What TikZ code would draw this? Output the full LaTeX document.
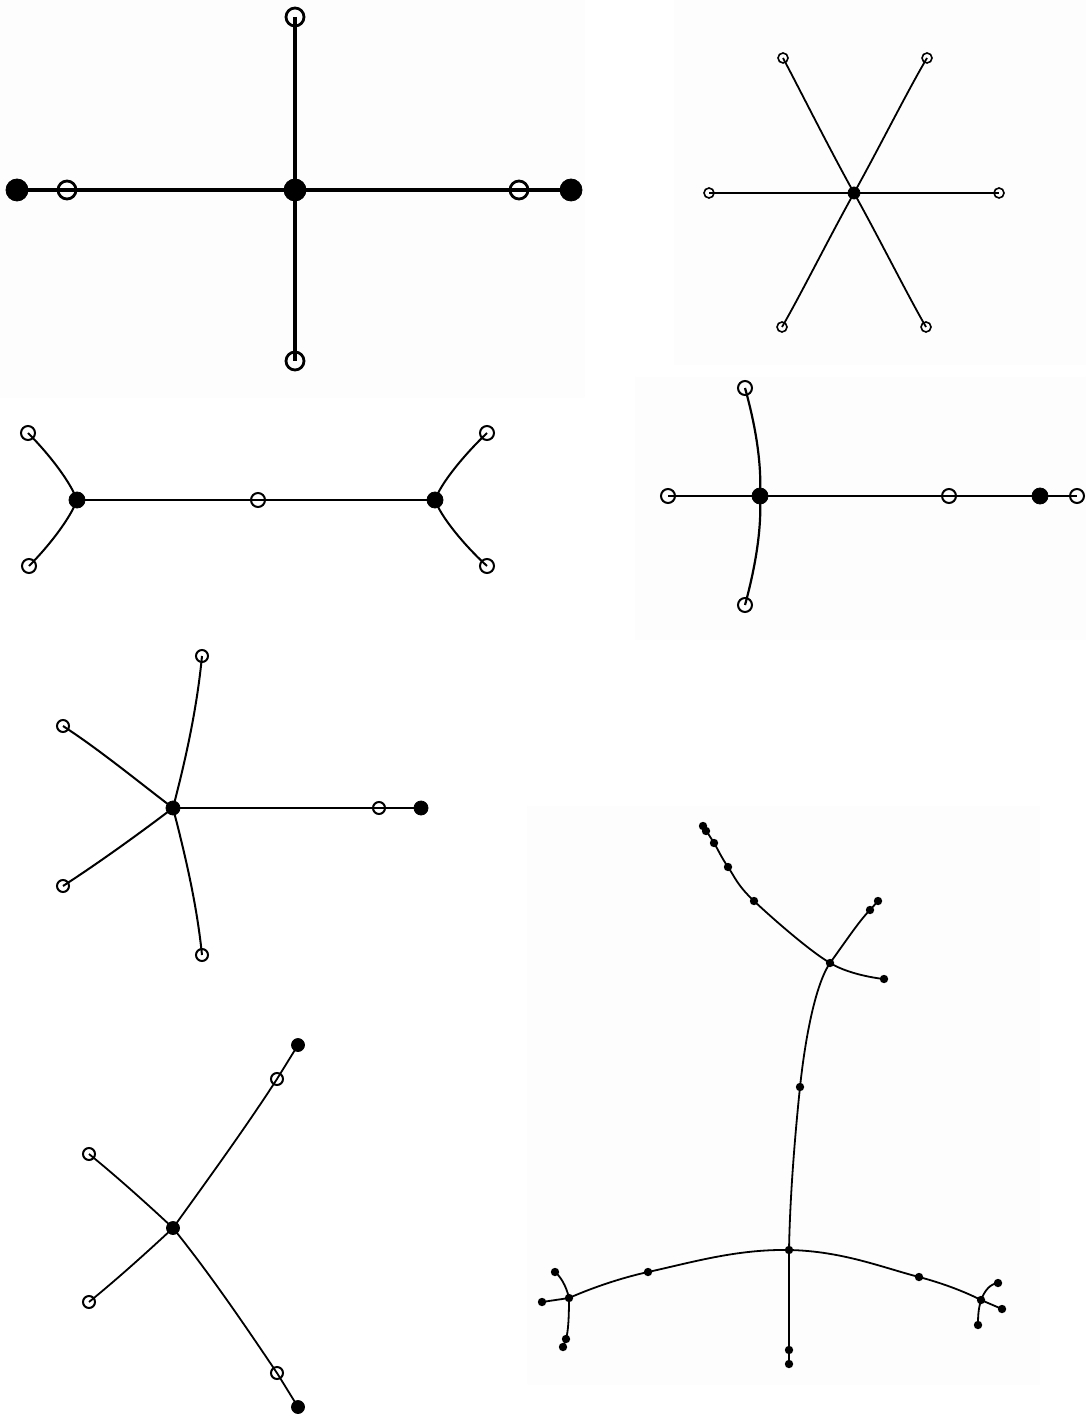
\documentclass[tikz,border=0pt]{standalone}
\begin{document}
\begin{tikzpicture}[x=0.5pt,y=-0.5pt,
  opn/.style={circle,draw=black,fill=none,inner sep=0pt,minimum size=#1},
  fil/.style={circle,draw=black,fill=black,inner sep=0pt,minimum size=#1},
  dotn/.style={circle,fill=black,inner sep=0pt,minimum size=4.2pt},
  edge/.style={draw=black,line width=#1},
  panelbg/.style={fill=black!0.8,draw=none}]
\useasboundingbox (0,0) rectangle (1086,1416);
\fill[white] (0,0) rectangle (1086,1416);
% faint panel backgrounds
\path[panelbg] (0,0) rectangle (585,398);
\path[panelbg] (674,0) rectangle (1086,365);
\path[panelbg] (635,377) rectangle (1086,640);
\path[panelbg] (527,806) rectangle (1040,1385);

% ---------------- Panel 1 ----------------
\begin{scope}
\path (295,190) coordinate (a0) (295,17) coordinate (at) (295,361) coordinate (ab)
      (17,190) coordinate (alf) (67,190) coordinate (alo) (519,190) coordinate (aro) (571,190) coordinate (arf);
\draw[edge=1.6pt] (at) -- (ab);
\draw[edge=1.6pt] (alf) -- (arf);
\node[opn=9pt,line width=1.4pt] (A1) at (at) {};
\node[opn=9pt,line width=1.4pt] (A2) at (ab) {};
\node[opn=9pt,line width=1.4pt] (A3) at (alo) {};
\node[opn=9pt,line width=1.4pt] (A4) at (aro) {};
\node[fil=11pt] (A0) at (a0) {};
\node[fil=11pt] (A5) at (alf) {};
\node[fil=11pt] (A6) at (arf) {};
\end{scope}

% ---------------- Panel 2 ----------------
\node[fil=6pt] (B0) at (854,193) {};
\node[opn=5pt,line width=0.8pt] (B1) at (783,58) {};
\node[opn=5pt,line width=0.8pt] (B2) at (927,58) {};
\node[opn=5pt,line width=0.8pt] (B3) at (709,193) {};
\node[opn=5pt,line width=0.8pt] (B4) at (999,193) {};
\node[opn=5pt,line width=0.8pt] (B5) at (782,327) {};
\node[opn=5pt,line width=0.8pt] (B6) at (926,327) {};
\draw[edge=0.9pt] (B0.center) .. controls (830,150) and (800,90) .. (B1.center);
\draw[edge=0.9pt] (B0.center) .. controls (878,150) and (908,90) .. (B2.center);
\draw[edge=0.9pt] (B0.center) -- (B3.center);
\draw[edge=0.9pt] (B0.center) -- (B4.center);
\draw[edge=0.9pt] (B0.center) .. controls (830,236) and (800,296) .. (B5.center);
\draw[edge=0.9pt] (B0.center) .. controls (878,236) and (908,296) .. (B6.center);

% ---------------- Panel 3 ----------------
\node[fil=8pt] (C0) at (77,500) {};
\node[fil=8pt] (C1) at (435,500) {};
\node[opn=7pt,line width=1pt] (C2) at (258,500) {};
\node[opn=7pt,line width=1pt] (C3) at (28,433) {};
\node[opn=7pt,line width=1pt] (C4) at (29,566) {};
\node[opn=7pt,line width=1pt] (C5) at (487,433) {};
\node[opn=7pt,line width=1pt] (C6) at (487,566) {};
\draw[edge=1.1pt] (C0.center) -- (C2.center) -- (C1.center);
\draw[edge=1pt] (C0.center) .. controls (71,483) and (50,455) .. (C3.center);
\draw[edge=1pt] (C0.center) .. controls (71,517) and (50,545) .. (C4.center);
\draw[edge=1pt] (C1.center) .. controls (441,483) and (464,455) .. (C5.center);
\draw[edge=1pt] (C1.center) .. controls (441,517) and (464,545) .. (C6.center);

% ---------------- Panel 4 ----------------
\node[fil=8pt] (D0) at (760,496) {};
\node[opn=7pt,line width=1pt] (D1) at (745,388) {};
\node[opn=7pt,line width=1pt] (D2) at (745,605) {};
\node[opn=7pt,line width=1pt] (D3) at (668,496) {};
\node[opn=7pt,line width=1pt] (D4) at (949,496) {};
\node[fil=8pt] (D5) at (1040,496) {};
\node[opn=7pt,line width=1pt] (D6) at (1077,496) {};
\draw[edge=1.1pt] (D0.center) .. controls (762,460) and (754,420) .. (D1.center);
\draw[edge=1.1pt] (D0.center) .. controls (762,532) and (754,572) .. (D2.center);
\draw[edge=1.1pt] (D3.center) -- (D0.center) -- (D4.center) -- (D5.center) -- (D6.center);

% ---------------- Panel 5 ----------------
\node[fil=7pt] (E0) at (173,808) {};
\node[opn=6pt,line width=1pt] (E1) at (202,656) {};
\node[opn=6pt,line width=1pt] (E2) at (63,726) {};
\node[opn=6pt,line width=1pt] (E3) at (63,886) {};
\node[opn=6pt,line width=1pt] (E4) at (202,955) {};
\node[opn=6pt,line width=1pt] (E5) at (379,808) {};
\node[fil=7pt] (E6) at (421,808) {};
\draw[edge=1pt] (E0.center) .. controls (186,758) and (197,708) .. (E1.center);
\draw[edge=1pt] (E0.center) .. controls (140,783) and (100,750) .. (E2.center);
\draw[edge=1pt] (E0.center) .. controls (140,833) and (100,862) .. (E3.center);
\draw[edge=1pt] (E0.center) .. controls (186,858) and (197,906) .. (E4.center);
\draw[edge=1pt] (E0.center) -- (E5.center) -- (E6.center);

% ---------------- Panel 6 ----------------
\node[fil=6.5pt] (F0) at (173,1228) {};
\node[fil=6.5pt] (F1) at (298,1045) {};
\node[opn=6pt,line width=1pt] (F2) at (277,1079) {};
\node[opn=6pt,line width=1pt] (F3) at (89,1154) {};
\node[opn=6pt,line width=1pt] (F4) at (89,1302) {};
\node[opn=6pt,line width=1pt] (F5) at (277,1373) {};
\node[fil=6.5pt] (F6) at (298,1407) {};
\draw[edge=0.9pt] (F0.center) .. controls (206,1182) and (244,1130) .. (F2.center) -- (F1.center);
\draw[edge=0.9pt] (F0.center) .. controls (144,1201) and (116,1176) .. (F3.center);
\draw[edge=0.9pt] (F0.center) .. controls (144,1255) and (116,1280) .. (F4.center);
\draw[edge=0.9pt] (F0.center) .. controls (210,1274) and (244,1324) .. (F5.center) -- (F6.center);

% ---------------- Panel 7 ----------------
\node[dotn] (G1) at (703,826) {};
\node[dotn] (G2) at (706,831) {};
\node[dotn] (G3) at (714,843) {};
\node[dotn] (G4) at (728,867) {};
\node[dotn] (G5) at (754,901) {};
\node[dotn] (GH) at (830,963) {};
\node[dotn] (G6) at (884,979) {};
\node[dotn] (G7) at (870,910) {};
\node[dotn] (G8) at (878,901) {};
\node[dotn] (G9) at (800,1087) {};
\node[dotn] (GB) at (789,1250) {};
\node[dotn] (G10) at (789,1350) {};
\node[dotn] (G11) at (789,1364) {};
\node[dotn] (G12) at (648,1272) {};
\node[dotn] (GL) at (569,1298) {};
\node[dotn] (G13) at (555,1272) {};
\node[dotn] (G14) at (542,1302) {};
\node[dotn] (G15) at (566,1339) {};
\node[dotn] (G16) at (563,1347) {};
\node[dotn] (G17) at (919,1277) {};
\node[dotn] (GR) at (981,1300) {};
\node[dotn] (G18) at (998,1283) {};
\node[dotn] (G19) at (1002,1309) {};
\node[dotn] (G20) at (978,1325) {};
\draw[edge=0.9pt] plot[smooth,tension=0.6] coordinates {(G1.center) (G3.center) (G4.center) (G5.center) (GH.center) (G6.center)};
\draw[edge=0.9pt] (GH.center) .. controls (848,938) and (860,920) .. (G7.center) -- (G8.center);
\draw[edge=0.9pt] (GH.center) .. controls (815,985) and (805,1040) .. (G9.center)
   .. controls (795,1135) and (790,1195) .. (GB.center);
\draw[edge=1pt] (GB.center) -- (G10.center) -- (G11.center);
\draw[edge=0.9pt] plot[smooth,tension=0.7] coordinates {(GL.center) (G12.center) (GB.center) (G17.center) (GR.center)};
\draw[edge=0.9pt] (GL.center) .. controls (566,1285) and (560,1276) .. (G13.center);
\draw[edge=0.9pt] (GL.center) -- (G14.center);
\draw[edge=0.9pt] (GL.center) .. controls (569,1320) and (568,1332) .. (G15.center) -- (G16.center);
\draw[edge=0.9pt] (GR.center) .. controls (985,1290) and (990,1284) .. (G18.center);
\draw[edge=0.9pt] (GR.center) -- (G19.center);
\draw[edge=0.9pt] (GR.center) .. controls (978,1310) and (978,1318) .. (G20.center);
\end{tikzpicture}
\end{document}
